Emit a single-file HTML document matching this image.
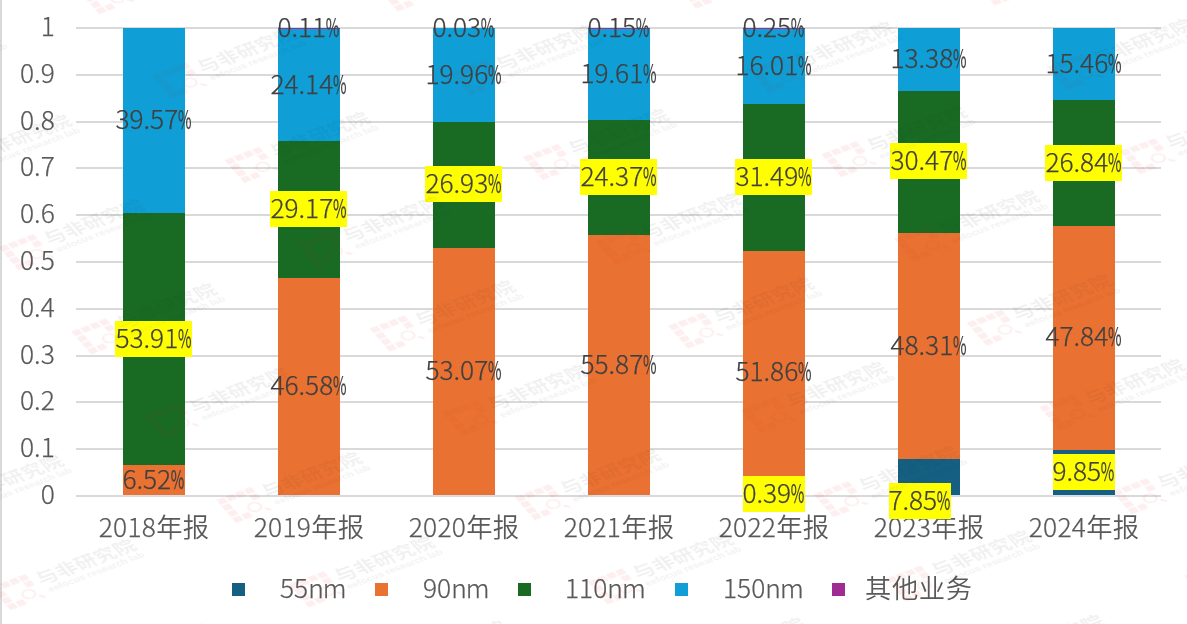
<!DOCTYPE html>
<html lang="zh-CN">
<head>
<meta charset="utf-8">
<title>chart</title>
<style>
html,body{margin:0;padding:0;background:#fff;}
body{width:1187px;height:624px;position:relative;overflow:hidden;font-family:"Noto Sans CJK SC","Liberation Sans",sans-serif;font-weight:300;}
#chart{position:absolute;left:0;top:0;width:1187px;height:624px;overflow:hidden;background:#fff;}
svg{position:absolute;left:0;top:0;}
.t{position:absolute;white-space:nowrap;line-height:30px;height:30px;font-size:26.3px;}
.yl{color:#595959;text-align:right;width:60px;-webkit-text-stroke:0.25px #595959;}
.cl{color:#595959;text-align:center;width:160px;letter-spacing:0.3px;-webkit-text-stroke:0.25px #595959;}
.cl b,.lg b{font-weight:350;-webkit-text-stroke:0;}
.dl{color:#404040;-webkit-text-stroke:0.25px #404040;text-align:center;height:36px;line-height:32px;box-sizing:border-box;}
.dl i{font-style:normal;font-weight:400;display:inline-block;transform:scaleX(.56);transform-origin:0 50%;width:13.8px;margin-left:0px}
.hl{background:#ffff00;}
.lg{color:#595959;-webkit-text-stroke:0.25px #595959;}
.lg u{text-decoration:none;letter-spacing:-0.9px;}
.lg b{letter-spacing:0.6px;}

</style>
</head>
<body>
<div id="chart">
<svg width="1187" height="624" viewBox="0 0 1187 624" shape-rendering="crispEdges">
<rect x="0" y="0" width="2" height="624" fill="#d9d9d9"/>
<rect x="76" y="27.0" width="1085" height="2" fill="#d9d9d9"/>
<rect x="76" y="73.8" width="1085" height="2" fill="#d9d9d9"/>
<rect x="76" y="120.6" width="1085" height="2" fill="#d9d9d9"/>
<rect x="76" y="167.4" width="1085" height="2" fill="#d9d9d9"/>
<rect x="76" y="214.2" width="1085" height="2" fill="#d9d9d9"/>
<rect x="76" y="261.0" width="1085" height="2" fill="#d9d9d9"/>
<rect x="76" y="307.8" width="1085" height="2" fill="#d9d9d9"/>
<rect x="76" y="354.6" width="1085" height="2" fill="#d9d9d9"/>
<rect x="76" y="401.4" width="1085" height="2" fill="#d9d9d9"/>
<rect x="76" y="448.2" width="1085" height="2" fill="#d9d9d9"/>
<rect x="76" y="495.0" width="1085" height="2" fill="#d9d9d9"/>
<rect x="123.0" y="465.49" width="62" height="30.51" fill="#E97132"/>
<rect x="123.0" y="213.19" width="62" height="252.30" fill="#196B24"/>
<rect x="123.0" y="28.00" width="62" height="185.19" fill="#0F9ED5"/>
<rect x="278.0" y="278.01" width="62" height="217.99" fill="#E97132"/>
<rect x="278.0" y="141.49" width="62" height="136.52" fill="#196B24"/>
<rect x="278.0" y="28.51" width="62" height="112.98" fill="#0F9ED5"/>
<rect x="278.0" y="28.00" width="62" height="0.51" fill="#A02B93"/>
<rect x="433.0" y="247.63" width="62" height="248.37" fill="#E97132"/>
<rect x="433.0" y="121.60" width="62" height="126.03" fill="#196B24"/>
<rect x="433.0" y="28.19" width="62" height="93.41" fill="#0F9ED5"/>
<rect x="433.0" y="28.05" width="62" height="0.14" fill="#A02B93"/>
<rect x="588.0" y="234.53" width="62" height="261.47" fill="#E97132"/>
<rect x="588.0" y="120.48" width="62" height="114.05" fill="#196B24"/>
<rect x="588.0" y="28.70" width="62" height="91.77" fill="#0F9ED5"/>
<rect x="588.0" y="28.00" width="62" height="0.70" fill="#A02B93"/>
<rect x="743.0" y="494.17" width="62" height="1.83" fill="#156082"/>
<rect x="743.0" y="251.47" width="62" height="242.70" fill="#E97132"/>
<rect x="743.0" y="104.10" width="62" height="147.37" fill="#196B24"/>
<rect x="743.0" y="29.17" width="62" height="74.93" fill="#0F9ED5"/>
<rect x="743.0" y="28.00" width="62" height="1.17" fill="#A02B93"/>
<rect x="898.0" y="459.26" width="62" height="36.74" fill="#156082"/>
<rect x="898.0" y="233.17" width="62" height="226.09" fill="#E97132"/>
<rect x="898.0" y="90.57" width="62" height="142.60" fill="#196B24"/>
<rect x="898.0" y="27.95" width="62" height="62.62" fill="#0F9ED5"/>
<rect x="1053.0" y="449.90" width="62" height="46.10" fill="#156082"/>
<rect x="1053.0" y="226.01" width="62" height="223.89" fill="#E97132"/>
<rect x="1053.0" y="100.40" width="62" height="125.61" fill="#196B24"/>
<rect x="1053.0" y="28.05" width="62" height="72.35" fill="#0F9ED5"/>
<rect x="76" y="495" width="1085" height="2" fill="#d9d9d9"/>
<rect x="123.0" y="495" width="62" height="1" fill="#d6dfe8"/>
<rect x="278.0" y="495" width="62" height="1" fill="#d6dfe8"/>
<rect x="433.0" y="495" width="62" height="1" fill="#d6dfe8"/>
<rect x="588.0" y="495" width="62" height="1" fill="#d6dfe8"/>
<rect x="743.0" y="495" width="62" height="1" fill="#d6dfe8"/>
<rect x="898.0" y="495" width="62" height="1" fill="#d6dfe8"/>
<rect x="1053.0" y="495" width="62" height="1" fill="#d6dfe8"/>
<rect x="232" y="583" width="13" height="13" fill="#156082"/>
<rect x="375" y="583" width="13" height="13" fill="#E97132"/>
<rect x="518" y="583" width="13" height="13" fill="#196B24"/>
<rect x="675" y="583" width="13" height="13" fill="#0F9ED5"/>
<rect x="832" y="583" width="13" height="13" fill="#A02B93"/>
</svg>
<div class="t yl" style="left:-5.25px;top:477.9px">0</div>
<div class="t yl" style="left:-5.25px;top:431.1px">0.1</div>
<div class="t yl" style="left:-5.25px;top:384.3px">0.2</div>
<div class="t yl" style="left:-5.25px;top:337.5px">0.3</div>
<div class="t yl" style="left:-5.25px;top:290.7px">0.4</div>
<div class="t yl" style="left:-5.25px;top:243.9px">0.5</div>
<div class="t yl" style="left:-5.25px;top:197.1px">0.6</div>
<div class="t yl" style="left:-5.25px;top:150.3px">0.7</div>
<div class="t yl" style="left:-5.25px;top:103.5px">0.8</div>
<div class="t yl" style="left:-5.25px;top:56.7px">0.9</div>
<div class="t yl" style="left:-5.25px;top:9.9px">1</div>
<div class="t cl" style="left:74.0px;top:511px">2018<b>年报</b></div>
<div class="t cl" style="left:229.0px;top:511px">2019<b>年报</b></div>
<div class="t cl" style="left:384.0px;top:511px">2020<b>年报</b></div>
<div class="t cl" style="left:539.0px;top:511px">2021<b>年报</b></div>
<div class="t cl" style="left:694.0px;top:511px">2022<b>年报</b></div>
<div class="t cl" style="left:849.0px;top:511px">2023<b>年报</b></div>
<div class="t cl" style="left:1004.0px;top:511px">2024<b>年报</b></div>
<div class="t dl" style="left:123.00px;top:462.00px;width:62px;text-indent:-0.6px">6.52<i>%</i></div>
<div class="t dl hl" style="left:115.40px;top:321.00px;width:76.6px">53.91<i>%</i></div>
<div class="t dl" style="left:115.40px;top:102.00px;width:76.6px">39.57<i>%</i></div>
<div class="t dl" style="left:270.40px;top:368.00px;width:76.6px">46.58<i>%</i></div>
<div class="t dl hl" style="left:270.40px;top:191.00px;width:76.6px">29.17<i>%</i></div>
<div class="t dl" style="left:270.40px;top:67.00px;width:76.6px">24.14<i>%</i></div>
<div class="t dl" style="left:278.00px;top:10.00px;width:62px;text-indent:-0.6px">0.11<i>%</i></div>
<div class="t dl" style="left:425.40px;top:353.00px;width:76.6px">53.07<i>%</i></div>
<div class="t dl hl" style="left:425.40px;top:166.00px;width:76.6px">26.93<i>%</i></div>
<div class="t dl" style="left:425.40px;top:57.00px;width:76.6px">19.96<i>%</i></div>
<div class="t dl" style="left:433.00px;top:10.00px;width:62px;text-indent:-0.6px">0.03<i>%</i></div>
<div class="t dl" style="left:580.40px;top:347.00px;width:76.6px">55.87<i>%</i></div>
<div class="t dl hl" style="left:580.40px;top:159.00px;width:76.6px">24.37<i>%</i></div>
<div class="t dl" style="left:580.40px;top:56.00px;width:76.6px">19.61<i>%</i></div>
<div class="t dl" style="left:588.00px;top:10.00px;width:62px;text-indent:-0.6px">0.15<i>%</i></div>
<div class="t dl hl" style="left:743.00px;top:476.00px;width:62px;text-indent:-0.6px">0.39<i>%</i></div>
<div class="t dl" style="left:735.40px;top:354.00px;width:76.6px">51.86<i>%</i></div>
<div class="t dl hl" style="left:735.40px;top:159.00px;width:76.6px">31.49<i>%</i></div>
<div class="t dl" style="left:735.40px;top:48.00px;width:76.6px">16.01<i>%</i></div>
<div class="t dl" style="left:743.00px;top:10.00px;width:62px;text-indent:-0.6px">0.25<i>%</i></div>
<div class="t dl hl" style="left:889.00px;top:483.00px;width:62px;text-indent:-0.6px">7.85<i>%</i></div>
<div class="t dl" style="left:890.40px;top:328.00px;width:76.6px">48.31<i>%</i></div>
<div class="t dl hl" style="left:890.40px;top:143.00px;width:76.6px">30.47<i>%</i></div>
<div class="t dl" style="left:890.40px;top:41.00px;width:76.6px">13.38<i>%</i></div>
<div class="t dl hl" style="left:1053.00px;top:454.00px;width:62px;text-indent:-0.6px">9.85<i>%</i></div>
<div class="t dl" style="left:1045.40px;top:319.00px;width:76.6px">47.84<i>%</i></div>
<div class="t dl hl" style="left:1045.40px;top:145.00px;width:76.6px">26.84<i>%</i></div>
<div class="t dl" style="left:1045.40px;top:46.00px;width:76.6px">15.46<i>%</i></div>
<div class="t lg" style="left:280px;top:572px">55<u>nm</u></div>
<div class="t lg" style="left:423px;top:572px">90<u>nm</u></div>
<div class="t lg" style="left:565px;top:572px">110<u>nm</u></div>
<div class="t lg" style="left:723px;top:572px">150<u>nm</u></div>
<div class="t lg" style="left:865px;top:572px"><b>其他业务</b></div>
<svg id="wm" width="1187" height="624" viewBox="0 0 1187 624" style="pointer-events:none">
<mask id="wmm" maskUnits="userSpaceOnUse" x="0" y="0" width="1187" height="624"><rect x="0" y="0" width="1187" height="624" fill="#fff"/>
<rect x="123.0" y="28" width="62" height="467" fill="#999"/>
<rect x="278.0" y="28" width="62" height="467" fill="#999"/>
<rect x="433.0" y="28" width="62" height="467" fill="#999"/>
<rect x="588.0" y="28" width="62" height="467" fill="#999"/>
<rect x="743.0" y="28" width="62" height="467" fill="#999"/>
<rect x="898.0" y="28" width="62" height="467" fill="#999"/>
<rect x="1053.0" y="28" width="62" height="467" fill="#999"/>
</mask>
<g mask="url(#wmm)">
<g transform="matrix(0.9357,-0.3534,0.5403,0.621,85.0,-7.7)">
<g fill="rgba(225,20,30,0.066)">
<rect x="-3.95" y="-3.95" width="7.9" height="7.9" rx="0.8"/>
<rect x="5.84" y="-3.95" width="7.9" height="7.9" rx="0.8"/>
<rect x="15.63" y="-3.95" width="7.9" height="7.9" rx="0.8"/>
<rect x="25.42" y="-3.95" width="7.9" height="7.9" rx="0.8"/>
<rect x="25.42" y="5.84" width="7.9" height="7.9" rx="0.8"/>
<rect x="-3.95" y="5.84" width="7.9" height="7.9" rx="0.8"/>
<rect x="-3.95" y="15.63" width="7.9" height="7.9" rx="0.8"/>
<rect x="-3.95" y="25.42" width="7.9" height="7.9" rx="0.8"/>
<rect x="5.84" y="25.42" width="7.9" height="7.9" rx="0.8"/>
</g>
<circle cx="22.1" cy="22.1" r="6" fill="none" stroke="rgba(225,20,30,0.066)" stroke-width="2.2"/>
<path d="M30 29.2 L32.6 32.3" stroke="rgba(225,20,30,0.066)" stroke-width="3" stroke-linecap="round" fill="none"/>
<text x="38.8" y="16" font-size="20.4" letter-spacing="0.3" fill="rgba(0,0,0,0.06)" font-weight="700">与非研究院</text>
<text x="41" y="29.6" font-size="10.2" fill="rgba(0,0,0,0.06)" font-family="Liberation Sans, sans-serif" font-weight="700">eefocus research lab</text>
</g>
<g transform="matrix(0.9357,-0.3534,0.5403,0.621,383.5,-10.6)">
<g fill="rgba(225,20,30,0.066)">
<rect x="-3.95" y="-3.95" width="7.9" height="7.9" rx="0.8"/>
<rect x="5.84" y="-3.95" width="7.9" height="7.9" rx="0.8"/>
<rect x="15.63" y="-3.95" width="7.9" height="7.9" rx="0.8"/>
<rect x="25.42" y="-3.95" width="7.9" height="7.9" rx="0.8"/>
<rect x="25.42" y="5.84" width="7.9" height="7.9" rx="0.8"/>
<rect x="-3.95" y="5.84" width="7.9" height="7.9" rx="0.8"/>
<rect x="-3.95" y="15.63" width="7.9" height="7.9" rx="0.8"/>
<rect x="-3.95" y="25.42" width="7.9" height="7.9" rx="0.8"/>
<rect x="5.84" y="25.42" width="7.9" height="7.9" rx="0.8"/>
</g>
<circle cx="22.1" cy="22.1" r="6" fill="none" stroke="rgba(225,20,30,0.066)" stroke-width="2.2"/>
<path d="M30 29.2 L32.6 32.3" stroke="rgba(225,20,30,0.066)" stroke-width="3" stroke-linecap="round" fill="none"/>
<text x="38.8" y="16" font-size="20.4" letter-spacing="0.3" fill="rgba(0,0,0,0.06)" font-weight="700">与非研究院</text>
<text x="41" y="29.6" font-size="10.2" fill="rgba(0,0,0,0.06)" font-family="Liberation Sans, sans-serif" font-weight="700">eefocus research lab</text>
</g>
<g transform="matrix(0.9357,-0.3534,0.5403,0.621,682.0,-13.5)">
<g fill="rgba(225,20,30,0.066)">
<rect x="-3.95" y="-3.95" width="7.9" height="7.9" rx="0.8"/>
<rect x="5.84" y="-3.95" width="7.9" height="7.9" rx="0.8"/>
<rect x="15.63" y="-3.95" width="7.9" height="7.9" rx="0.8"/>
<rect x="25.42" y="-3.95" width="7.9" height="7.9" rx="0.8"/>
<rect x="25.42" y="5.84" width="7.9" height="7.9" rx="0.8"/>
<rect x="-3.95" y="5.84" width="7.9" height="7.9" rx="0.8"/>
<rect x="-3.95" y="15.63" width="7.9" height="7.9" rx="0.8"/>
<rect x="-3.95" y="25.42" width="7.9" height="7.9" rx="0.8"/>
<rect x="5.84" y="25.42" width="7.9" height="7.9" rx="0.8"/>
</g>
<circle cx="22.1" cy="22.1" r="6" fill="none" stroke="rgba(225,20,30,0.066)" stroke-width="2.2"/>
<path d="M30 29.2 L32.6 32.3" stroke="rgba(225,20,30,0.066)" stroke-width="3" stroke-linecap="round" fill="none"/>
<text x="38.8" y="16" font-size="20.4" letter-spacing="0.3" fill="rgba(0,0,0,0.06)" font-weight="700">与非研究院</text>
<text x="41" y="29.6" font-size="10.2" fill="rgba(0,0,0,0.06)" font-family="Liberation Sans, sans-serif" font-weight="700">eefocus research lab</text>
</g>
<g transform="matrix(0.9357,-0.3534,0.5403,0.621,980.5,-16.4)">
<g fill="rgba(225,20,30,0.066)">
<rect x="-3.95" y="-3.95" width="7.9" height="7.9" rx="0.8"/>
<rect x="5.84" y="-3.95" width="7.9" height="7.9" rx="0.8"/>
<rect x="15.63" y="-3.95" width="7.9" height="7.9" rx="0.8"/>
<rect x="25.42" y="-3.95" width="7.9" height="7.9" rx="0.8"/>
<rect x="25.42" y="5.84" width="7.9" height="7.9" rx="0.8"/>
<rect x="-3.95" y="5.84" width="7.9" height="7.9" rx="0.8"/>
<rect x="-3.95" y="15.63" width="7.9" height="7.9" rx="0.8"/>
<rect x="-3.95" y="25.42" width="7.9" height="7.9" rx="0.8"/>
<rect x="5.84" y="25.42" width="7.9" height="7.9" rx="0.8"/>
</g>
<circle cx="22.1" cy="22.1" r="6" fill="none" stroke="rgba(225,20,30,0.066)" stroke-width="2.2"/>
<path d="M30 29.2 L32.6 32.3" stroke="rgba(225,20,30,0.066)" stroke-width="3" stroke-linecap="round" fill="none"/>
<text x="38.8" y="16" font-size="20.4" letter-spacing="0.3" fill="rgba(0,0,0,0.06)" font-weight="700">与非研究院</text>
<text x="41" y="29.6" font-size="10.2" fill="rgba(0,0,0,0.06)" font-family="Liberation Sans, sans-serif" font-weight="700">eefocus research lab</text>
</g>
<g transform="matrix(0.9357,-0.3534,0.5403,0.621,-140.9,79.5)">
<g fill="rgba(225,20,30,0.066)">
<rect x="-3.95" y="-3.95" width="7.9" height="7.9" rx="0.8"/>
<rect x="5.84" y="-3.95" width="7.9" height="7.9" rx="0.8"/>
<rect x="15.63" y="-3.95" width="7.9" height="7.9" rx="0.8"/>
<rect x="25.42" y="-3.95" width="7.9" height="7.9" rx="0.8"/>
<rect x="25.42" y="5.84" width="7.9" height="7.9" rx="0.8"/>
<rect x="-3.95" y="5.84" width="7.9" height="7.9" rx="0.8"/>
<rect x="-3.95" y="15.63" width="7.9" height="7.9" rx="0.8"/>
<rect x="-3.95" y="25.42" width="7.9" height="7.9" rx="0.8"/>
<rect x="5.84" y="25.42" width="7.9" height="7.9" rx="0.8"/>
</g>
<circle cx="22.1" cy="22.1" r="6" fill="none" stroke="rgba(225,20,30,0.066)" stroke-width="2.2"/>
<path d="M30 29.2 L32.6 32.3" stroke="rgba(225,20,30,0.066)" stroke-width="3" stroke-linecap="round" fill="none"/>
<text x="38.8" y="16" font-size="20.4" letter-spacing="0.3" fill="rgba(0,0,0,0.06)" font-weight="700">与非研究院</text>
<text x="41" y="29.6" font-size="10.2" fill="rgba(0,0,0,0.06)" font-family="Liberation Sans, sans-serif" font-weight="700">eefocus research lab</text>
</g>
<g transform="matrix(0.9357,-0.3534,0.5403,0.621,157.6,76.6)">
<g fill="rgba(225,20,30,0.066)">
<rect x="-3.95" y="-3.95" width="7.9" height="7.9" rx="0.8"/>
<rect x="5.84" y="-3.95" width="7.9" height="7.9" rx="0.8"/>
<rect x="15.63" y="-3.95" width="7.9" height="7.9" rx="0.8"/>
<rect x="25.42" y="-3.95" width="7.9" height="7.9" rx="0.8"/>
<rect x="25.42" y="5.84" width="7.9" height="7.9" rx="0.8"/>
<rect x="-3.95" y="5.84" width="7.9" height="7.9" rx="0.8"/>
<rect x="-3.95" y="15.63" width="7.9" height="7.9" rx="0.8"/>
<rect x="-3.95" y="25.42" width="7.9" height="7.9" rx="0.8"/>
<rect x="5.84" y="25.42" width="7.9" height="7.9" rx="0.8"/>
</g>
<circle cx="22.1" cy="22.1" r="6" fill="none" stroke="rgba(225,20,30,0.066)" stroke-width="2.2"/>
<path d="M30 29.2 L32.6 32.3" stroke="rgba(225,20,30,0.066)" stroke-width="3" stroke-linecap="round" fill="none"/>
<text x="38.8" y="16" font-size="20.4" letter-spacing="0.3" fill="rgba(0,0,0,0.06)" font-weight="700">与非研究院</text>
<text x="41" y="29.6" font-size="10.2" fill="rgba(0,0,0,0.06)" font-family="Liberation Sans, sans-serif" font-weight="700">eefocus research lab</text>
</g>
<g transform="matrix(0.9357,-0.3534,0.5403,0.621,456.1,73.7)">
<g fill="rgba(225,20,30,0.066)">
<rect x="-3.95" y="-3.95" width="7.9" height="7.9" rx="0.8"/>
<rect x="5.84" y="-3.95" width="7.9" height="7.9" rx="0.8"/>
<rect x="15.63" y="-3.95" width="7.9" height="7.9" rx="0.8"/>
<rect x="25.42" y="-3.95" width="7.9" height="7.9" rx="0.8"/>
<rect x="25.42" y="5.84" width="7.9" height="7.9" rx="0.8"/>
<rect x="-3.95" y="5.84" width="7.9" height="7.9" rx="0.8"/>
<rect x="-3.95" y="15.63" width="7.9" height="7.9" rx="0.8"/>
<rect x="-3.95" y="25.42" width="7.9" height="7.9" rx="0.8"/>
<rect x="5.84" y="25.42" width="7.9" height="7.9" rx="0.8"/>
</g>
<circle cx="22.1" cy="22.1" r="6" fill="none" stroke="rgba(225,20,30,0.066)" stroke-width="2.2"/>
<path d="M30 29.2 L32.6 32.3" stroke="rgba(225,20,30,0.066)" stroke-width="3" stroke-linecap="round" fill="none"/>
<text x="38.8" y="16" font-size="20.4" letter-spacing="0.3" fill="rgba(0,0,0,0.06)" font-weight="700">与非研究院</text>
<text x="41" y="29.6" font-size="10.2" fill="rgba(0,0,0,0.06)" font-family="Liberation Sans, sans-serif" font-weight="700">eefocus research lab</text>
</g>
<g transform="matrix(0.9357,-0.3534,0.5403,0.621,754.6,70.8)">
<g fill="rgba(225,20,30,0.066)">
<rect x="-3.95" y="-3.95" width="7.9" height="7.9" rx="0.8"/>
<rect x="5.84" y="-3.95" width="7.9" height="7.9" rx="0.8"/>
<rect x="15.63" y="-3.95" width="7.9" height="7.9" rx="0.8"/>
<rect x="25.42" y="-3.95" width="7.9" height="7.9" rx="0.8"/>
<rect x="25.42" y="5.84" width="7.9" height="7.9" rx="0.8"/>
<rect x="-3.95" y="5.84" width="7.9" height="7.9" rx="0.8"/>
<rect x="-3.95" y="15.63" width="7.9" height="7.9" rx="0.8"/>
<rect x="-3.95" y="25.42" width="7.9" height="7.9" rx="0.8"/>
<rect x="5.84" y="25.42" width="7.9" height="7.9" rx="0.8"/>
</g>
<circle cx="22.1" cy="22.1" r="6" fill="none" stroke="rgba(225,20,30,0.066)" stroke-width="2.2"/>
<path d="M30 29.2 L32.6 32.3" stroke="rgba(225,20,30,0.066)" stroke-width="3" stroke-linecap="round" fill="none"/>
<text x="38.8" y="16" font-size="20.4" letter-spacing="0.3" fill="rgba(0,0,0,0.06)" font-weight="700">与非研究院</text>
<text x="41" y="29.6" font-size="10.2" fill="rgba(0,0,0,0.06)" font-family="Liberation Sans, sans-serif" font-weight="700">eefocus research lab</text>
</g>
<g transform="matrix(0.9357,-0.3534,0.5403,0.621,1053.1,67.9)">
<g fill="rgba(225,20,30,0.066)">
<rect x="-3.95" y="-3.95" width="7.9" height="7.9" rx="0.8"/>
<rect x="5.84" y="-3.95" width="7.9" height="7.9" rx="0.8"/>
<rect x="15.63" y="-3.95" width="7.9" height="7.9" rx="0.8"/>
<rect x="25.42" y="-3.95" width="7.9" height="7.9" rx="0.8"/>
<rect x="25.42" y="5.84" width="7.9" height="7.9" rx="0.8"/>
<rect x="-3.95" y="5.84" width="7.9" height="7.9" rx="0.8"/>
<rect x="-3.95" y="15.63" width="7.9" height="7.9" rx="0.8"/>
<rect x="-3.95" y="25.42" width="7.9" height="7.9" rx="0.8"/>
<rect x="5.84" y="25.42" width="7.9" height="7.9" rx="0.8"/>
</g>
<circle cx="22.1" cy="22.1" r="6" fill="none" stroke="rgba(225,20,30,0.066)" stroke-width="2.2"/>
<path d="M30 29.2 L32.6 32.3" stroke="rgba(225,20,30,0.066)" stroke-width="3" stroke-linecap="round" fill="none"/>
<text x="38.8" y="16" font-size="20.4" letter-spacing="0.3" fill="rgba(0,0,0,0.06)" font-weight="700">与非研究院</text>
<text x="41" y="29.6" font-size="10.2" fill="rgba(0,0,0,0.06)" font-family="Liberation Sans, sans-serif" font-weight="700">eefocus research lab</text>
</g>
<g transform="matrix(0.9357,-0.3534,0.5403,0.621,-68.3,163.8)">
<g fill="rgba(225,20,30,0.066)">
<rect x="-3.95" y="-3.95" width="7.9" height="7.9" rx="0.8"/>
<rect x="5.84" y="-3.95" width="7.9" height="7.9" rx="0.8"/>
<rect x="15.63" y="-3.95" width="7.9" height="7.9" rx="0.8"/>
<rect x="25.42" y="-3.95" width="7.9" height="7.9" rx="0.8"/>
<rect x="25.42" y="5.84" width="7.9" height="7.9" rx="0.8"/>
<rect x="-3.95" y="5.84" width="7.9" height="7.9" rx="0.8"/>
<rect x="-3.95" y="15.63" width="7.9" height="7.9" rx="0.8"/>
<rect x="-3.95" y="25.42" width="7.9" height="7.9" rx="0.8"/>
<rect x="5.84" y="25.42" width="7.9" height="7.9" rx="0.8"/>
</g>
<circle cx="22.1" cy="22.1" r="6" fill="none" stroke="rgba(225,20,30,0.066)" stroke-width="2.2"/>
<path d="M30 29.2 L32.6 32.3" stroke="rgba(225,20,30,0.066)" stroke-width="3" stroke-linecap="round" fill="none"/>
<text x="38.8" y="16" font-size="20.4" letter-spacing="0.3" fill="rgba(0,0,0,0.06)" font-weight="700">与非研究院</text>
<text x="41" y="29.6" font-size="10.2" fill="rgba(0,0,0,0.06)" font-family="Liberation Sans, sans-serif" font-weight="700">eefocus research lab</text>
</g>
<g transform="matrix(0.9357,-0.3534,0.5403,0.621,230.2,160.9)">
<g fill="rgba(225,20,30,0.066)">
<rect x="-3.95" y="-3.95" width="7.9" height="7.9" rx="0.8"/>
<rect x="5.84" y="-3.95" width="7.9" height="7.9" rx="0.8"/>
<rect x="15.63" y="-3.95" width="7.9" height="7.9" rx="0.8"/>
<rect x="25.42" y="-3.95" width="7.9" height="7.9" rx="0.8"/>
<rect x="25.42" y="5.84" width="7.9" height="7.9" rx="0.8"/>
<rect x="-3.95" y="5.84" width="7.9" height="7.9" rx="0.8"/>
<rect x="-3.95" y="15.63" width="7.9" height="7.9" rx="0.8"/>
<rect x="-3.95" y="25.42" width="7.9" height="7.9" rx="0.8"/>
<rect x="5.84" y="25.42" width="7.9" height="7.9" rx="0.8"/>
</g>
<circle cx="22.1" cy="22.1" r="6" fill="none" stroke="rgba(225,20,30,0.066)" stroke-width="2.2"/>
<path d="M30 29.2 L32.6 32.3" stroke="rgba(225,20,30,0.066)" stroke-width="3" stroke-linecap="round" fill="none"/>
<text x="38.8" y="16" font-size="20.4" letter-spacing="0.3" fill="rgba(0,0,0,0.06)" font-weight="700">与非研究院</text>
<text x="41" y="29.6" font-size="10.2" fill="rgba(0,0,0,0.06)" font-family="Liberation Sans, sans-serif" font-weight="700">eefocus research lab</text>
</g>
<g transform="matrix(0.9357,-0.3534,0.5403,0.621,528.7,158.0)">
<g fill="rgba(225,20,30,0.066)">
<rect x="-3.95" y="-3.95" width="7.9" height="7.9" rx="0.8"/>
<rect x="5.84" y="-3.95" width="7.9" height="7.9" rx="0.8"/>
<rect x="15.63" y="-3.95" width="7.9" height="7.9" rx="0.8"/>
<rect x="25.42" y="-3.95" width="7.9" height="7.9" rx="0.8"/>
<rect x="25.42" y="5.84" width="7.9" height="7.9" rx="0.8"/>
<rect x="-3.95" y="5.84" width="7.9" height="7.9" rx="0.8"/>
<rect x="-3.95" y="15.63" width="7.9" height="7.9" rx="0.8"/>
<rect x="-3.95" y="25.42" width="7.9" height="7.9" rx="0.8"/>
<rect x="5.84" y="25.42" width="7.9" height="7.9" rx="0.8"/>
</g>
<circle cx="22.1" cy="22.1" r="6" fill="none" stroke="rgba(225,20,30,0.066)" stroke-width="2.2"/>
<path d="M30 29.2 L32.6 32.3" stroke="rgba(225,20,30,0.066)" stroke-width="3" stroke-linecap="round" fill="none"/>
<text x="38.8" y="16" font-size="20.4" letter-spacing="0.3" fill="rgba(0,0,0,0.06)" font-weight="700">与非研究院</text>
<text x="41" y="29.6" font-size="10.2" fill="rgba(0,0,0,0.06)" font-family="Liberation Sans, sans-serif" font-weight="700">eefocus research lab</text>
</g>
<g transform="matrix(0.9357,-0.3534,0.5403,0.621,827.2,155.1)">
<g fill="rgba(225,20,30,0.066)">
<rect x="-3.95" y="-3.95" width="7.9" height="7.9" rx="0.8"/>
<rect x="5.84" y="-3.95" width="7.9" height="7.9" rx="0.8"/>
<rect x="15.63" y="-3.95" width="7.9" height="7.9" rx="0.8"/>
<rect x="25.42" y="-3.95" width="7.9" height="7.9" rx="0.8"/>
<rect x="25.42" y="5.84" width="7.9" height="7.9" rx="0.8"/>
<rect x="-3.95" y="5.84" width="7.9" height="7.9" rx="0.8"/>
<rect x="-3.95" y="15.63" width="7.9" height="7.9" rx="0.8"/>
<rect x="-3.95" y="25.42" width="7.9" height="7.9" rx="0.8"/>
<rect x="5.84" y="25.42" width="7.9" height="7.9" rx="0.8"/>
</g>
<circle cx="22.1" cy="22.1" r="6" fill="none" stroke="rgba(225,20,30,0.066)" stroke-width="2.2"/>
<path d="M30 29.2 L32.6 32.3" stroke="rgba(225,20,30,0.066)" stroke-width="3" stroke-linecap="round" fill="none"/>
<text x="38.8" y="16" font-size="20.4" letter-spacing="0.3" fill="rgba(0,0,0,0.06)" font-weight="700">与非研究院</text>
<text x="41" y="29.6" font-size="10.2" fill="rgba(0,0,0,0.06)" font-family="Liberation Sans, sans-serif" font-weight="700">eefocus research lab</text>
</g>
<g transform="matrix(0.9357,-0.3534,0.5403,0.621,1125.7,152.2)">
<g fill="rgba(225,20,30,0.066)">
<rect x="-3.95" y="-3.95" width="7.9" height="7.9" rx="0.8"/>
<rect x="5.84" y="-3.95" width="7.9" height="7.9" rx="0.8"/>
<rect x="15.63" y="-3.95" width="7.9" height="7.9" rx="0.8"/>
<rect x="25.42" y="-3.95" width="7.9" height="7.9" rx="0.8"/>
<rect x="25.42" y="5.84" width="7.9" height="7.9" rx="0.8"/>
<rect x="-3.95" y="5.84" width="7.9" height="7.9" rx="0.8"/>
<rect x="-3.95" y="15.63" width="7.9" height="7.9" rx="0.8"/>
<rect x="-3.95" y="25.42" width="7.9" height="7.9" rx="0.8"/>
<rect x="5.84" y="25.42" width="7.9" height="7.9" rx="0.8"/>
</g>
<circle cx="22.1" cy="22.1" r="6" fill="none" stroke="rgba(225,20,30,0.066)" stroke-width="2.2"/>
<path d="M30 29.2 L32.6 32.3" stroke="rgba(225,20,30,0.066)" stroke-width="3" stroke-linecap="round" fill="none"/>
<text x="38.8" y="16" font-size="20.4" letter-spacing="0.3" fill="rgba(0,0,0,0.06)" font-weight="700">与非研究院</text>
<text x="41" y="29.6" font-size="10.2" fill="rgba(0,0,0,0.06)" font-family="Liberation Sans, sans-serif" font-weight="700">eefocus research lab</text>
</g>
<g transform="matrix(0.9357,-0.3534,0.5403,0.621,4.3,248.1)">
<g fill="rgba(225,20,30,0.066)">
<rect x="-3.95" y="-3.95" width="7.9" height="7.9" rx="0.8"/>
<rect x="5.84" y="-3.95" width="7.9" height="7.9" rx="0.8"/>
<rect x="15.63" y="-3.95" width="7.9" height="7.9" rx="0.8"/>
<rect x="25.42" y="-3.95" width="7.9" height="7.9" rx="0.8"/>
<rect x="25.42" y="5.84" width="7.9" height="7.9" rx="0.8"/>
<rect x="-3.95" y="5.84" width="7.9" height="7.9" rx="0.8"/>
<rect x="-3.95" y="15.63" width="7.9" height="7.9" rx="0.8"/>
<rect x="-3.95" y="25.42" width="7.9" height="7.9" rx="0.8"/>
<rect x="5.84" y="25.42" width="7.9" height="7.9" rx="0.8"/>
</g>
<circle cx="22.1" cy="22.1" r="6" fill="none" stroke="rgba(225,20,30,0.066)" stroke-width="2.2"/>
<path d="M30 29.2 L32.6 32.3" stroke="rgba(225,20,30,0.066)" stroke-width="3" stroke-linecap="round" fill="none"/>
<text x="38.8" y="16" font-size="20.4" letter-spacing="0.3" fill="rgba(0,0,0,0.06)" font-weight="700">与非研究院</text>
<text x="41" y="29.6" font-size="10.2" fill="rgba(0,0,0,0.06)" font-family="Liberation Sans, sans-serif" font-weight="700">eefocus research lab</text>
</g>
<g transform="matrix(0.9357,-0.3534,0.5403,0.621,302.8,245.2)">
<g fill="rgba(225,20,30,0.066)">
<rect x="-3.95" y="-3.95" width="7.9" height="7.9" rx="0.8"/>
<rect x="5.84" y="-3.95" width="7.9" height="7.9" rx="0.8"/>
<rect x="15.63" y="-3.95" width="7.9" height="7.9" rx="0.8"/>
<rect x="25.42" y="-3.95" width="7.9" height="7.9" rx="0.8"/>
<rect x="25.42" y="5.84" width="7.9" height="7.9" rx="0.8"/>
<rect x="-3.95" y="5.84" width="7.9" height="7.9" rx="0.8"/>
<rect x="-3.95" y="15.63" width="7.9" height="7.9" rx="0.8"/>
<rect x="-3.95" y="25.42" width="7.9" height="7.9" rx="0.8"/>
<rect x="5.84" y="25.42" width="7.9" height="7.9" rx="0.8"/>
</g>
<circle cx="22.1" cy="22.1" r="6" fill="none" stroke="rgba(225,20,30,0.066)" stroke-width="2.2"/>
<path d="M30 29.2 L32.6 32.3" stroke="rgba(225,20,30,0.066)" stroke-width="3" stroke-linecap="round" fill="none"/>
<text x="38.8" y="16" font-size="20.4" letter-spacing="0.3" fill="rgba(0,0,0,0.06)" font-weight="700">与非研究院</text>
<text x="41" y="29.6" font-size="10.2" fill="rgba(0,0,0,0.06)" font-family="Liberation Sans, sans-serif" font-weight="700">eefocus research lab</text>
</g>
<g transform="matrix(0.9357,-0.3534,0.5403,0.621,601.3,242.3)">
<g fill="rgba(225,20,30,0.066)">
<rect x="-3.95" y="-3.95" width="7.9" height="7.9" rx="0.8"/>
<rect x="5.84" y="-3.95" width="7.9" height="7.9" rx="0.8"/>
<rect x="15.63" y="-3.95" width="7.9" height="7.9" rx="0.8"/>
<rect x="25.42" y="-3.95" width="7.9" height="7.9" rx="0.8"/>
<rect x="25.42" y="5.84" width="7.9" height="7.9" rx="0.8"/>
<rect x="-3.95" y="5.84" width="7.9" height="7.9" rx="0.8"/>
<rect x="-3.95" y="15.63" width="7.9" height="7.9" rx="0.8"/>
<rect x="-3.95" y="25.42" width="7.9" height="7.9" rx="0.8"/>
<rect x="5.84" y="25.42" width="7.9" height="7.9" rx="0.8"/>
</g>
<circle cx="22.1" cy="22.1" r="6" fill="none" stroke="rgba(225,20,30,0.066)" stroke-width="2.2"/>
<path d="M30 29.2 L32.6 32.3" stroke="rgba(225,20,30,0.066)" stroke-width="3" stroke-linecap="round" fill="none"/>
<text x="38.8" y="16" font-size="20.4" letter-spacing="0.3" fill="rgba(0,0,0,0.06)" font-weight="700">与非研究院</text>
<text x="41" y="29.6" font-size="10.2" fill="rgba(0,0,0,0.06)" font-family="Liberation Sans, sans-serif" font-weight="700">eefocus research lab</text>
</g>
<g transform="matrix(0.9357,-0.3534,0.5403,0.621,899.8,239.4)">
<g fill="rgba(225,20,30,0.066)">
<rect x="-3.95" y="-3.95" width="7.9" height="7.9" rx="0.8"/>
<rect x="5.84" y="-3.95" width="7.9" height="7.9" rx="0.8"/>
<rect x="15.63" y="-3.95" width="7.9" height="7.9" rx="0.8"/>
<rect x="25.42" y="-3.95" width="7.9" height="7.9" rx="0.8"/>
<rect x="25.42" y="5.84" width="7.9" height="7.9" rx="0.8"/>
<rect x="-3.95" y="5.84" width="7.9" height="7.9" rx="0.8"/>
<rect x="-3.95" y="15.63" width="7.9" height="7.9" rx="0.8"/>
<rect x="-3.95" y="25.42" width="7.9" height="7.9" rx="0.8"/>
<rect x="5.84" y="25.42" width="7.9" height="7.9" rx="0.8"/>
</g>
<circle cx="22.1" cy="22.1" r="6" fill="none" stroke="rgba(225,20,30,0.066)" stroke-width="2.2"/>
<path d="M30 29.2 L32.6 32.3" stroke="rgba(225,20,30,0.066)" stroke-width="3" stroke-linecap="round" fill="none"/>
<text x="38.8" y="16" font-size="20.4" letter-spacing="0.3" fill="rgba(0,0,0,0.06)" font-weight="700">与非研究院</text>
<text x="41" y="29.6" font-size="10.2" fill="rgba(0,0,0,0.06)" font-family="Liberation Sans, sans-serif" font-weight="700">eefocus research lab</text>
</g>
<g transform="matrix(0.9357,-0.3534,0.5403,0.621,76.9,332.4)">
<g fill="rgba(225,20,30,0.066)">
<rect x="-3.95" y="-3.95" width="7.9" height="7.9" rx="0.8"/>
<rect x="5.84" y="-3.95" width="7.9" height="7.9" rx="0.8"/>
<rect x="15.63" y="-3.95" width="7.9" height="7.9" rx="0.8"/>
<rect x="25.42" y="-3.95" width="7.9" height="7.9" rx="0.8"/>
<rect x="25.42" y="5.84" width="7.9" height="7.9" rx="0.8"/>
<rect x="-3.95" y="5.84" width="7.9" height="7.9" rx="0.8"/>
<rect x="-3.95" y="15.63" width="7.9" height="7.9" rx="0.8"/>
<rect x="-3.95" y="25.42" width="7.9" height="7.9" rx="0.8"/>
<rect x="5.84" y="25.42" width="7.9" height="7.9" rx="0.8"/>
</g>
<circle cx="22.1" cy="22.1" r="6" fill="none" stroke="rgba(225,20,30,0.066)" stroke-width="2.2"/>
<path d="M30 29.2 L32.6 32.3" stroke="rgba(225,20,30,0.066)" stroke-width="3" stroke-linecap="round" fill="none"/>
<text x="38.8" y="16" font-size="20.4" letter-spacing="0.3" fill="rgba(0,0,0,0.06)" font-weight="700">与非研究院</text>
<text x="41" y="29.6" font-size="10.2" fill="rgba(0,0,0,0.06)" font-family="Liberation Sans, sans-serif" font-weight="700">eefocus research lab</text>
</g>
<g transform="matrix(0.9357,-0.3534,0.5403,0.621,375.4,329.5)">
<g fill="rgba(225,20,30,0.066)">
<rect x="-3.95" y="-3.95" width="7.9" height="7.9" rx="0.8"/>
<rect x="5.84" y="-3.95" width="7.9" height="7.9" rx="0.8"/>
<rect x="15.63" y="-3.95" width="7.9" height="7.9" rx="0.8"/>
<rect x="25.42" y="-3.95" width="7.9" height="7.9" rx="0.8"/>
<rect x="25.42" y="5.84" width="7.9" height="7.9" rx="0.8"/>
<rect x="-3.95" y="5.84" width="7.9" height="7.9" rx="0.8"/>
<rect x="-3.95" y="15.63" width="7.9" height="7.9" rx="0.8"/>
<rect x="-3.95" y="25.42" width="7.9" height="7.9" rx="0.8"/>
<rect x="5.84" y="25.42" width="7.9" height="7.9" rx="0.8"/>
</g>
<circle cx="22.1" cy="22.1" r="6" fill="none" stroke="rgba(225,20,30,0.066)" stroke-width="2.2"/>
<path d="M30 29.2 L32.6 32.3" stroke="rgba(225,20,30,0.066)" stroke-width="3" stroke-linecap="round" fill="none"/>
<text x="38.8" y="16" font-size="20.4" letter-spacing="0.3" fill="rgba(0,0,0,0.06)" font-weight="700">与非研究院</text>
<text x="41" y="29.6" font-size="10.2" fill="rgba(0,0,0,0.06)" font-family="Liberation Sans, sans-serif" font-weight="700">eefocus research lab</text>
</g>
<g transform="matrix(0.9357,-0.3534,0.5403,0.621,673.9,326.6)">
<g fill="rgba(225,20,30,0.066)">
<rect x="-3.95" y="-3.95" width="7.9" height="7.9" rx="0.8"/>
<rect x="5.84" y="-3.95" width="7.9" height="7.9" rx="0.8"/>
<rect x="15.63" y="-3.95" width="7.9" height="7.9" rx="0.8"/>
<rect x="25.42" y="-3.95" width="7.9" height="7.9" rx="0.8"/>
<rect x="25.42" y="5.84" width="7.9" height="7.9" rx="0.8"/>
<rect x="-3.95" y="5.84" width="7.9" height="7.9" rx="0.8"/>
<rect x="-3.95" y="15.63" width="7.9" height="7.9" rx="0.8"/>
<rect x="-3.95" y="25.42" width="7.9" height="7.9" rx="0.8"/>
<rect x="5.84" y="25.42" width="7.9" height="7.9" rx="0.8"/>
</g>
<circle cx="22.1" cy="22.1" r="6" fill="none" stroke="rgba(225,20,30,0.066)" stroke-width="2.2"/>
<path d="M30 29.2 L32.6 32.3" stroke="rgba(225,20,30,0.066)" stroke-width="3" stroke-linecap="round" fill="none"/>
<text x="38.8" y="16" font-size="20.4" letter-spacing="0.3" fill="rgba(0,0,0,0.06)" font-weight="700">与非研究院</text>
<text x="41" y="29.6" font-size="10.2" fill="rgba(0,0,0,0.06)" font-family="Liberation Sans, sans-serif" font-weight="700">eefocus research lab</text>
</g>
<g transform="matrix(0.9357,-0.3534,0.5403,0.621,972.4,323.7)">
<g fill="rgba(225,20,30,0.066)">
<rect x="-3.95" y="-3.95" width="7.9" height="7.9" rx="0.8"/>
<rect x="5.84" y="-3.95" width="7.9" height="7.9" rx="0.8"/>
<rect x="15.63" y="-3.95" width="7.9" height="7.9" rx="0.8"/>
<rect x="25.42" y="-3.95" width="7.9" height="7.9" rx="0.8"/>
<rect x="25.42" y="5.84" width="7.9" height="7.9" rx="0.8"/>
<rect x="-3.95" y="5.84" width="7.9" height="7.9" rx="0.8"/>
<rect x="-3.95" y="15.63" width="7.9" height="7.9" rx="0.8"/>
<rect x="-3.95" y="25.42" width="7.9" height="7.9" rx="0.8"/>
<rect x="5.84" y="25.42" width="7.9" height="7.9" rx="0.8"/>
</g>
<circle cx="22.1" cy="22.1" r="6" fill="none" stroke="rgba(225,20,30,0.066)" stroke-width="2.2"/>
<path d="M30 29.2 L32.6 32.3" stroke="rgba(225,20,30,0.066)" stroke-width="3" stroke-linecap="round" fill="none"/>
<text x="38.8" y="16" font-size="20.4" letter-spacing="0.3" fill="rgba(0,0,0,0.06)" font-weight="700">与非研究院</text>
<text x="41" y="29.6" font-size="10.2" fill="rgba(0,0,0,0.06)" font-family="Liberation Sans, sans-serif" font-weight="700">eefocus research lab</text>
</g>
<g transform="matrix(0.9357,-0.3534,0.5403,0.621,-149.0,419.6)">
<g fill="rgba(225,20,30,0.066)">
<rect x="-3.95" y="-3.95" width="7.9" height="7.9" rx="0.8"/>
<rect x="5.84" y="-3.95" width="7.9" height="7.9" rx="0.8"/>
<rect x="15.63" y="-3.95" width="7.9" height="7.9" rx="0.8"/>
<rect x="25.42" y="-3.95" width="7.9" height="7.9" rx="0.8"/>
<rect x="25.42" y="5.84" width="7.9" height="7.9" rx="0.8"/>
<rect x="-3.95" y="5.84" width="7.9" height="7.9" rx="0.8"/>
<rect x="-3.95" y="15.63" width="7.9" height="7.9" rx="0.8"/>
<rect x="-3.95" y="25.42" width="7.9" height="7.9" rx="0.8"/>
<rect x="5.84" y="25.42" width="7.9" height="7.9" rx="0.8"/>
</g>
<circle cx="22.1" cy="22.1" r="6" fill="none" stroke="rgba(225,20,30,0.066)" stroke-width="2.2"/>
<path d="M30 29.2 L32.6 32.3" stroke="rgba(225,20,30,0.066)" stroke-width="3" stroke-linecap="round" fill="none"/>
<text x="38.8" y="16" font-size="20.4" letter-spacing="0.3" fill="rgba(0,0,0,0.06)" font-weight="700">与非研究院</text>
<text x="41" y="29.6" font-size="10.2" fill="rgba(0,0,0,0.06)" font-family="Liberation Sans, sans-serif" font-weight="700">eefocus research lab</text>
</g>
<g transform="matrix(0.9357,-0.3534,0.5403,0.621,149.5,416.7)">
<g fill="rgba(225,20,30,0.066)">
<rect x="-3.95" y="-3.95" width="7.9" height="7.9" rx="0.8"/>
<rect x="5.84" y="-3.95" width="7.9" height="7.9" rx="0.8"/>
<rect x="15.63" y="-3.95" width="7.9" height="7.9" rx="0.8"/>
<rect x="25.42" y="-3.95" width="7.9" height="7.9" rx="0.8"/>
<rect x="25.42" y="5.84" width="7.9" height="7.9" rx="0.8"/>
<rect x="-3.95" y="5.84" width="7.9" height="7.9" rx="0.8"/>
<rect x="-3.95" y="15.63" width="7.9" height="7.9" rx="0.8"/>
<rect x="-3.95" y="25.42" width="7.9" height="7.9" rx="0.8"/>
<rect x="5.84" y="25.42" width="7.9" height="7.9" rx="0.8"/>
</g>
<circle cx="22.1" cy="22.1" r="6" fill="none" stroke="rgba(225,20,30,0.066)" stroke-width="2.2"/>
<path d="M30 29.2 L32.6 32.3" stroke="rgba(225,20,30,0.066)" stroke-width="3" stroke-linecap="round" fill="none"/>
<text x="38.8" y="16" font-size="20.4" letter-spacing="0.3" fill="rgba(0,0,0,0.06)" font-weight="700">与非研究院</text>
<text x="41" y="29.6" font-size="10.2" fill="rgba(0,0,0,0.06)" font-family="Liberation Sans, sans-serif" font-weight="700">eefocus research lab</text>
</g>
<g transform="matrix(0.9357,-0.3534,0.5403,0.621,448.0,413.8)">
<g fill="rgba(225,20,30,0.066)">
<rect x="-3.95" y="-3.95" width="7.9" height="7.9" rx="0.8"/>
<rect x="5.84" y="-3.95" width="7.9" height="7.9" rx="0.8"/>
<rect x="15.63" y="-3.95" width="7.9" height="7.9" rx="0.8"/>
<rect x="25.42" y="-3.95" width="7.9" height="7.9" rx="0.8"/>
<rect x="25.42" y="5.84" width="7.9" height="7.9" rx="0.8"/>
<rect x="-3.95" y="5.84" width="7.9" height="7.9" rx="0.8"/>
<rect x="-3.95" y="15.63" width="7.9" height="7.9" rx="0.8"/>
<rect x="-3.95" y="25.42" width="7.9" height="7.9" rx="0.8"/>
<rect x="5.84" y="25.42" width="7.9" height="7.9" rx="0.8"/>
</g>
<circle cx="22.1" cy="22.1" r="6" fill="none" stroke="rgba(225,20,30,0.066)" stroke-width="2.2"/>
<path d="M30 29.2 L32.6 32.3" stroke="rgba(225,20,30,0.066)" stroke-width="3" stroke-linecap="round" fill="none"/>
<text x="38.8" y="16" font-size="20.4" letter-spacing="0.3" fill="rgba(0,0,0,0.06)" font-weight="700">与非研究院</text>
<text x="41" y="29.6" font-size="10.2" fill="rgba(0,0,0,0.06)" font-family="Liberation Sans, sans-serif" font-weight="700">eefocus research lab</text>
</g>
<g transform="matrix(0.9357,-0.3534,0.5403,0.621,746.5,410.9)">
<g fill="rgba(225,20,30,0.066)">
<rect x="-3.95" y="-3.95" width="7.9" height="7.9" rx="0.8"/>
<rect x="5.84" y="-3.95" width="7.9" height="7.9" rx="0.8"/>
<rect x="15.63" y="-3.95" width="7.9" height="7.9" rx="0.8"/>
<rect x="25.42" y="-3.95" width="7.9" height="7.9" rx="0.8"/>
<rect x="25.42" y="5.84" width="7.9" height="7.9" rx="0.8"/>
<rect x="-3.95" y="5.84" width="7.9" height="7.9" rx="0.8"/>
<rect x="-3.95" y="15.63" width="7.9" height="7.9" rx="0.8"/>
<rect x="-3.95" y="25.42" width="7.9" height="7.9" rx="0.8"/>
<rect x="5.84" y="25.42" width="7.9" height="7.9" rx="0.8"/>
</g>
<circle cx="22.1" cy="22.1" r="6" fill="none" stroke="rgba(225,20,30,0.066)" stroke-width="2.2"/>
<path d="M30 29.2 L32.6 32.3" stroke="rgba(225,20,30,0.066)" stroke-width="3" stroke-linecap="round" fill="none"/>
<text x="38.8" y="16" font-size="20.4" letter-spacing="0.3" fill="rgba(0,0,0,0.06)" font-weight="700">与非研究院</text>
<text x="41" y="29.6" font-size="10.2" fill="rgba(0,0,0,0.06)" font-family="Liberation Sans, sans-serif" font-weight="700">eefocus research lab</text>
</g>
<g transform="matrix(0.9357,-0.3534,0.5403,0.621,1045.0,408.0)">
<g fill="rgba(225,20,30,0.066)">
<rect x="-3.95" y="-3.95" width="7.9" height="7.9" rx="0.8"/>
<rect x="5.84" y="-3.95" width="7.9" height="7.9" rx="0.8"/>
<rect x="15.63" y="-3.95" width="7.9" height="7.9" rx="0.8"/>
<rect x="25.42" y="-3.95" width="7.9" height="7.9" rx="0.8"/>
<rect x="25.42" y="5.84" width="7.9" height="7.9" rx="0.8"/>
<rect x="-3.95" y="5.84" width="7.9" height="7.9" rx="0.8"/>
<rect x="-3.95" y="15.63" width="7.9" height="7.9" rx="0.8"/>
<rect x="-3.95" y="25.42" width="7.9" height="7.9" rx="0.8"/>
<rect x="5.84" y="25.42" width="7.9" height="7.9" rx="0.8"/>
</g>
<circle cx="22.1" cy="22.1" r="6" fill="none" stroke="rgba(225,20,30,0.066)" stroke-width="2.2"/>
<path d="M30 29.2 L32.6 32.3" stroke="rgba(225,20,30,0.066)" stroke-width="3" stroke-linecap="round" fill="none"/>
<text x="38.8" y="16" font-size="20.4" letter-spacing="0.3" fill="rgba(0,0,0,0.06)" font-weight="700">与非研究院</text>
<text x="41" y="29.6" font-size="10.2" fill="rgba(0,0,0,0.06)" font-family="Liberation Sans, sans-serif" font-weight="700">eefocus research lab</text>
</g>
<g transform="matrix(0.9357,-0.3534,0.5403,0.621,-76.4,503.9)">
<g fill="rgba(225,20,30,0.066)">
<rect x="-3.95" y="-3.95" width="7.9" height="7.9" rx="0.8"/>
<rect x="5.84" y="-3.95" width="7.9" height="7.9" rx="0.8"/>
<rect x="15.63" y="-3.95" width="7.9" height="7.9" rx="0.8"/>
<rect x="25.42" y="-3.95" width="7.9" height="7.9" rx="0.8"/>
<rect x="25.42" y="5.84" width="7.9" height="7.9" rx="0.8"/>
<rect x="-3.95" y="5.84" width="7.9" height="7.9" rx="0.8"/>
<rect x="-3.95" y="15.63" width="7.9" height="7.9" rx="0.8"/>
<rect x="-3.95" y="25.42" width="7.9" height="7.9" rx="0.8"/>
<rect x="5.84" y="25.42" width="7.9" height="7.9" rx="0.8"/>
</g>
<circle cx="22.1" cy="22.1" r="6" fill="none" stroke="rgba(225,20,30,0.066)" stroke-width="2.2"/>
<path d="M30 29.2 L32.6 32.3" stroke="rgba(225,20,30,0.066)" stroke-width="3" stroke-linecap="round" fill="none"/>
<text x="38.8" y="16" font-size="20.4" letter-spacing="0.3" fill="rgba(0,0,0,0.06)" font-weight="700">与非研究院</text>
<text x="41" y="29.6" font-size="10.2" fill="rgba(0,0,0,0.06)" font-family="Liberation Sans, sans-serif" font-weight="700">eefocus research lab</text>
</g>
<g transform="matrix(0.9357,-0.3534,0.5403,0.621,222.1,501.0)">
<g fill="rgba(225,20,30,0.066)">
<rect x="-3.95" y="-3.95" width="7.9" height="7.9" rx="0.8"/>
<rect x="5.84" y="-3.95" width="7.9" height="7.9" rx="0.8"/>
<rect x="15.63" y="-3.95" width="7.9" height="7.9" rx="0.8"/>
<rect x="25.42" y="-3.95" width="7.9" height="7.9" rx="0.8"/>
<rect x="25.42" y="5.84" width="7.9" height="7.9" rx="0.8"/>
<rect x="-3.95" y="5.84" width="7.9" height="7.9" rx="0.8"/>
<rect x="-3.95" y="15.63" width="7.9" height="7.9" rx="0.8"/>
<rect x="-3.95" y="25.42" width="7.9" height="7.9" rx="0.8"/>
<rect x="5.84" y="25.42" width="7.9" height="7.9" rx="0.8"/>
</g>
<circle cx="22.1" cy="22.1" r="6" fill="none" stroke="rgba(225,20,30,0.066)" stroke-width="2.2"/>
<path d="M30 29.2 L32.6 32.3" stroke="rgba(225,20,30,0.066)" stroke-width="3" stroke-linecap="round" fill="none"/>
<text x="38.8" y="16" font-size="20.4" letter-spacing="0.3" fill="rgba(0,0,0,0.06)" font-weight="700">与非研究院</text>
<text x="41" y="29.6" font-size="10.2" fill="rgba(0,0,0,0.06)" font-family="Liberation Sans, sans-serif" font-weight="700">eefocus research lab</text>
</g>
<g transform="matrix(0.9357,-0.3534,0.5403,0.621,520.6,498.1)">
<g fill="rgba(225,20,30,0.066)">
<rect x="-3.95" y="-3.95" width="7.9" height="7.9" rx="0.8"/>
<rect x="5.84" y="-3.95" width="7.9" height="7.9" rx="0.8"/>
<rect x="15.63" y="-3.95" width="7.9" height="7.9" rx="0.8"/>
<rect x="25.42" y="-3.95" width="7.9" height="7.9" rx="0.8"/>
<rect x="25.42" y="5.84" width="7.9" height="7.9" rx="0.8"/>
<rect x="-3.95" y="5.84" width="7.9" height="7.9" rx="0.8"/>
<rect x="-3.95" y="15.63" width="7.9" height="7.9" rx="0.8"/>
<rect x="-3.95" y="25.42" width="7.9" height="7.9" rx="0.8"/>
<rect x="5.84" y="25.42" width="7.9" height="7.9" rx="0.8"/>
</g>
<circle cx="22.1" cy="22.1" r="6" fill="none" stroke="rgba(225,20,30,0.066)" stroke-width="2.2"/>
<path d="M30 29.2 L32.6 32.3" stroke="rgba(225,20,30,0.066)" stroke-width="3" stroke-linecap="round" fill="none"/>
<text x="38.8" y="16" font-size="20.4" letter-spacing="0.3" fill="rgba(0,0,0,0.06)" font-weight="700">与非研究院</text>
<text x="41" y="29.6" font-size="10.2" fill="rgba(0,0,0,0.06)" font-family="Liberation Sans, sans-serif" font-weight="700">eefocus research lab</text>
</g>
<g transform="matrix(0.9357,-0.3534,0.5403,0.621,819.1,495.2)">
<g fill="rgba(225,20,30,0.066)">
<rect x="-3.95" y="-3.95" width="7.9" height="7.9" rx="0.8"/>
<rect x="5.84" y="-3.95" width="7.9" height="7.9" rx="0.8"/>
<rect x="15.63" y="-3.95" width="7.9" height="7.9" rx="0.8"/>
<rect x="25.42" y="-3.95" width="7.9" height="7.9" rx="0.8"/>
<rect x="25.42" y="5.84" width="7.9" height="7.9" rx="0.8"/>
<rect x="-3.95" y="5.84" width="7.9" height="7.9" rx="0.8"/>
<rect x="-3.95" y="15.63" width="7.9" height="7.9" rx="0.8"/>
<rect x="-3.95" y="25.42" width="7.9" height="7.9" rx="0.8"/>
<rect x="5.84" y="25.42" width="7.9" height="7.9" rx="0.8"/>
</g>
<circle cx="22.1" cy="22.1" r="6" fill="none" stroke="rgba(225,20,30,0.066)" stroke-width="2.2"/>
<path d="M30 29.2 L32.6 32.3" stroke="rgba(225,20,30,0.066)" stroke-width="3" stroke-linecap="round" fill="none"/>
<text x="38.8" y="16" font-size="20.4" letter-spacing="0.3" fill="rgba(0,0,0,0.06)" font-weight="700">与非研究院</text>
<text x="41" y="29.6" font-size="10.2" fill="rgba(0,0,0,0.06)" font-family="Liberation Sans, sans-serif" font-weight="700">eefocus research lab</text>
</g>
<g transform="matrix(0.9357,-0.3534,0.5403,0.621,1117.6,492.3)">
<g fill="rgba(225,20,30,0.066)">
<rect x="-3.95" y="-3.95" width="7.9" height="7.9" rx="0.8"/>
<rect x="5.84" y="-3.95" width="7.9" height="7.9" rx="0.8"/>
<rect x="15.63" y="-3.95" width="7.9" height="7.9" rx="0.8"/>
<rect x="25.42" y="-3.95" width="7.9" height="7.9" rx="0.8"/>
<rect x="25.42" y="5.84" width="7.9" height="7.9" rx="0.8"/>
<rect x="-3.95" y="5.84" width="7.9" height="7.9" rx="0.8"/>
<rect x="-3.95" y="15.63" width="7.9" height="7.9" rx="0.8"/>
<rect x="-3.95" y="25.42" width="7.9" height="7.9" rx="0.8"/>
<rect x="5.84" y="25.42" width="7.9" height="7.9" rx="0.8"/>
</g>
<circle cx="22.1" cy="22.1" r="6" fill="none" stroke="rgba(225,20,30,0.066)" stroke-width="2.2"/>
<path d="M30 29.2 L32.6 32.3" stroke="rgba(225,20,30,0.066)" stroke-width="3" stroke-linecap="round" fill="none"/>
<text x="38.8" y="16" font-size="20.4" letter-spacing="0.3" fill="rgba(0,0,0,0.06)" font-weight="700">与非研究院</text>
<text x="41" y="29.6" font-size="10.2" fill="rgba(0,0,0,0.06)" font-family="Liberation Sans, sans-serif" font-weight="700">eefocus research lab</text>
</g>
<g transform="matrix(0.9357,-0.3534,0.5403,0.621,-3.8,588.2)">
<g fill="rgba(225,20,30,0.066)">
<rect x="-3.95" y="-3.95" width="7.9" height="7.9" rx="0.8"/>
<rect x="5.84" y="-3.95" width="7.9" height="7.9" rx="0.8"/>
<rect x="15.63" y="-3.95" width="7.9" height="7.9" rx="0.8"/>
<rect x="25.42" y="-3.95" width="7.9" height="7.9" rx="0.8"/>
<rect x="25.42" y="5.84" width="7.9" height="7.9" rx="0.8"/>
<rect x="-3.95" y="5.84" width="7.9" height="7.9" rx="0.8"/>
<rect x="-3.95" y="15.63" width="7.9" height="7.9" rx="0.8"/>
<rect x="-3.95" y="25.42" width="7.9" height="7.9" rx="0.8"/>
<rect x="5.84" y="25.42" width="7.9" height="7.9" rx="0.8"/>
</g>
<circle cx="22.1" cy="22.1" r="6" fill="none" stroke="rgba(225,20,30,0.066)" stroke-width="2.2"/>
<path d="M30 29.2 L32.6 32.3" stroke="rgba(225,20,30,0.066)" stroke-width="3" stroke-linecap="round" fill="none"/>
<text x="38.8" y="16" font-size="20.4" letter-spacing="0.3" fill="rgba(0,0,0,0.06)" font-weight="700">与非研究院</text>
<text x="41" y="29.6" font-size="10.2" fill="rgba(0,0,0,0.06)" font-family="Liberation Sans, sans-serif" font-weight="700">eefocus research lab</text>
</g>
<g transform="matrix(0.9357,-0.3534,0.5403,0.621,294.7,585.3)">
<g fill="rgba(225,20,30,0.066)">
<rect x="-3.95" y="-3.95" width="7.9" height="7.9" rx="0.8"/>
<rect x="5.84" y="-3.95" width="7.9" height="7.9" rx="0.8"/>
<rect x="15.63" y="-3.95" width="7.9" height="7.9" rx="0.8"/>
<rect x="25.42" y="-3.95" width="7.9" height="7.9" rx="0.8"/>
<rect x="25.42" y="5.84" width="7.9" height="7.9" rx="0.8"/>
<rect x="-3.95" y="5.84" width="7.9" height="7.9" rx="0.8"/>
<rect x="-3.95" y="15.63" width="7.9" height="7.9" rx="0.8"/>
<rect x="-3.95" y="25.42" width="7.9" height="7.9" rx="0.8"/>
<rect x="5.84" y="25.42" width="7.9" height="7.9" rx="0.8"/>
</g>
<circle cx="22.1" cy="22.1" r="6" fill="none" stroke="rgba(225,20,30,0.066)" stroke-width="2.2"/>
<path d="M30 29.2 L32.6 32.3" stroke="rgba(225,20,30,0.066)" stroke-width="3" stroke-linecap="round" fill="none"/>
<text x="38.8" y="16" font-size="20.4" letter-spacing="0.3" fill="rgba(0,0,0,0.06)" font-weight="700">与非研究院</text>
<text x="41" y="29.6" font-size="10.2" fill="rgba(0,0,0,0.06)" font-family="Liberation Sans, sans-serif" font-weight="700">eefocus research lab</text>
</g>
<g transform="matrix(0.9357,-0.3534,0.5403,0.621,593.2,582.4)">
<g fill="rgba(225,20,30,0.066)">
<rect x="-3.95" y="-3.95" width="7.9" height="7.9" rx="0.8"/>
<rect x="5.84" y="-3.95" width="7.9" height="7.9" rx="0.8"/>
<rect x="15.63" y="-3.95" width="7.9" height="7.9" rx="0.8"/>
<rect x="25.42" y="-3.95" width="7.9" height="7.9" rx="0.8"/>
<rect x="25.42" y="5.84" width="7.9" height="7.9" rx="0.8"/>
<rect x="-3.95" y="5.84" width="7.9" height="7.9" rx="0.8"/>
<rect x="-3.95" y="15.63" width="7.9" height="7.9" rx="0.8"/>
<rect x="-3.95" y="25.42" width="7.9" height="7.9" rx="0.8"/>
<rect x="5.84" y="25.42" width="7.9" height="7.9" rx="0.8"/>
</g>
<circle cx="22.1" cy="22.1" r="6" fill="none" stroke="rgba(225,20,30,0.066)" stroke-width="2.2"/>
<path d="M30 29.2 L32.6 32.3" stroke="rgba(225,20,30,0.066)" stroke-width="3" stroke-linecap="round" fill="none"/>
<text x="38.8" y="16" font-size="20.4" letter-spacing="0.3" fill="rgba(0,0,0,0.06)" font-weight="700">与非研究院</text>
<text x="41" y="29.6" font-size="10.2" fill="rgba(0,0,0,0.06)" font-family="Liberation Sans, sans-serif" font-weight="700">eefocus research lab</text>
</g>
<g transform="matrix(0.9357,-0.3534,0.5403,0.621,891.7,579.5)">
<g fill="rgba(225,20,30,0.066)">
<rect x="-3.95" y="-3.95" width="7.9" height="7.9" rx="0.8"/>
<rect x="5.84" y="-3.95" width="7.9" height="7.9" rx="0.8"/>
<rect x="15.63" y="-3.95" width="7.9" height="7.9" rx="0.8"/>
<rect x="25.42" y="-3.95" width="7.9" height="7.9" rx="0.8"/>
<rect x="25.42" y="5.84" width="7.9" height="7.9" rx="0.8"/>
<rect x="-3.95" y="5.84" width="7.9" height="7.9" rx="0.8"/>
<rect x="-3.95" y="15.63" width="7.9" height="7.9" rx="0.8"/>
<rect x="-3.95" y="25.42" width="7.9" height="7.9" rx="0.8"/>
<rect x="5.84" y="25.42" width="7.9" height="7.9" rx="0.8"/>
</g>
<circle cx="22.1" cy="22.1" r="6" fill="none" stroke="rgba(225,20,30,0.066)" stroke-width="2.2"/>
<path d="M30 29.2 L32.6 32.3" stroke="rgba(225,20,30,0.066)" stroke-width="3" stroke-linecap="round" fill="none"/>
<text x="38.8" y="16" font-size="20.4" letter-spacing="0.3" fill="rgba(0,0,0,0.06)" font-weight="700">与非研究院</text>
<text x="41" y="29.6" font-size="10.2" fill="rgba(0,0,0,0.06)" font-family="Liberation Sans, sans-serif" font-weight="700">eefocus research lab</text>
</g>
<g transform="matrix(0.9357,-0.3534,0.5403,0.621,1190.2,576.6)">
<g fill="rgba(225,20,30,0.066)">
<rect x="-3.95" y="-3.95" width="7.9" height="7.9" rx="0.8"/>
<rect x="5.84" y="-3.95" width="7.9" height="7.9" rx="0.8"/>
<rect x="15.63" y="-3.95" width="7.9" height="7.9" rx="0.8"/>
<rect x="25.42" y="-3.95" width="7.9" height="7.9" rx="0.8"/>
<rect x="25.42" y="5.84" width="7.9" height="7.9" rx="0.8"/>
<rect x="-3.95" y="5.84" width="7.9" height="7.9" rx="0.8"/>
<rect x="-3.95" y="15.63" width="7.9" height="7.9" rx="0.8"/>
<rect x="-3.95" y="25.42" width="7.9" height="7.9" rx="0.8"/>
<rect x="5.84" y="25.42" width="7.9" height="7.9" rx="0.8"/>
</g>
<circle cx="22.1" cy="22.1" r="6" fill="none" stroke="rgba(225,20,30,0.066)" stroke-width="2.2"/>
<path d="M30 29.2 L32.6 32.3" stroke="rgba(225,20,30,0.066)" stroke-width="3" stroke-linecap="round" fill="none"/>
<text x="38.8" y="16" font-size="20.4" letter-spacing="0.3" fill="rgba(0,0,0,0.06)" font-weight="700">与非研究院</text>
<text x="41" y="29.6" font-size="10.2" fill="rgba(0,0,0,0.06)" font-family="Liberation Sans, sans-serif" font-weight="700">eefocus research lab</text>
</g>
<g transform="matrix(0.9357,-0.3534,0.5403,0.621,68.8,672.5)">
<g fill="rgba(225,20,30,0.066)">
<rect x="-3.95" y="-3.95" width="7.9" height="7.9" rx="0.8"/>
<rect x="5.84" y="-3.95" width="7.9" height="7.9" rx="0.8"/>
<rect x="15.63" y="-3.95" width="7.9" height="7.9" rx="0.8"/>
<rect x="25.42" y="-3.95" width="7.9" height="7.9" rx="0.8"/>
<rect x="25.42" y="5.84" width="7.9" height="7.9" rx="0.8"/>
<rect x="-3.95" y="5.84" width="7.9" height="7.9" rx="0.8"/>
<rect x="-3.95" y="15.63" width="7.9" height="7.9" rx="0.8"/>
<rect x="-3.95" y="25.42" width="7.9" height="7.9" rx="0.8"/>
<rect x="5.84" y="25.42" width="7.9" height="7.9" rx="0.8"/>
</g>
<circle cx="22.1" cy="22.1" r="6" fill="none" stroke="rgba(225,20,30,0.066)" stroke-width="2.2"/>
<path d="M30 29.2 L32.6 32.3" stroke="rgba(225,20,30,0.066)" stroke-width="3" stroke-linecap="round" fill="none"/>
<text x="38.8" y="16" font-size="20.4" letter-spacing="0.3" fill="rgba(0,0,0,0.06)" font-weight="700">与非研究院</text>
<text x="41" y="29.6" font-size="10.2" fill="rgba(0,0,0,0.06)" font-family="Liberation Sans, sans-serif" font-weight="700">eefocus research lab</text>
</g>
<g transform="matrix(0.9357,-0.3534,0.5403,0.621,367.3,669.6)">
<g fill="rgba(225,20,30,0.066)">
<rect x="-3.95" y="-3.95" width="7.9" height="7.9" rx="0.8"/>
<rect x="5.84" y="-3.95" width="7.9" height="7.9" rx="0.8"/>
<rect x="15.63" y="-3.95" width="7.9" height="7.9" rx="0.8"/>
<rect x="25.42" y="-3.95" width="7.9" height="7.9" rx="0.8"/>
<rect x="25.42" y="5.84" width="7.9" height="7.9" rx="0.8"/>
<rect x="-3.95" y="5.84" width="7.9" height="7.9" rx="0.8"/>
<rect x="-3.95" y="15.63" width="7.9" height="7.9" rx="0.8"/>
<rect x="-3.95" y="25.42" width="7.9" height="7.9" rx="0.8"/>
<rect x="5.84" y="25.42" width="7.9" height="7.9" rx="0.8"/>
</g>
<circle cx="22.1" cy="22.1" r="6" fill="none" stroke="rgba(225,20,30,0.066)" stroke-width="2.2"/>
<path d="M30 29.2 L32.6 32.3" stroke="rgba(225,20,30,0.066)" stroke-width="3" stroke-linecap="round" fill="none"/>
<text x="38.8" y="16" font-size="20.4" letter-spacing="0.3" fill="rgba(0,0,0,0.06)" font-weight="700">与非研究院</text>
<text x="41" y="29.6" font-size="10.2" fill="rgba(0,0,0,0.06)" font-family="Liberation Sans, sans-serif" font-weight="700">eefocus research lab</text>
</g>
<g transform="matrix(0.9357,-0.3534,0.5403,0.621,665.8,666.7)">
<g fill="rgba(225,20,30,0.066)">
<rect x="-3.95" y="-3.95" width="7.9" height="7.9" rx="0.8"/>
<rect x="5.84" y="-3.95" width="7.9" height="7.9" rx="0.8"/>
<rect x="15.63" y="-3.95" width="7.9" height="7.9" rx="0.8"/>
<rect x="25.42" y="-3.95" width="7.9" height="7.9" rx="0.8"/>
<rect x="25.42" y="5.84" width="7.9" height="7.9" rx="0.8"/>
<rect x="-3.95" y="5.84" width="7.9" height="7.9" rx="0.8"/>
<rect x="-3.95" y="15.63" width="7.9" height="7.9" rx="0.8"/>
<rect x="-3.95" y="25.42" width="7.9" height="7.9" rx="0.8"/>
<rect x="5.84" y="25.42" width="7.9" height="7.9" rx="0.8"/>
</g>
<circle cx="22.1" cy="22.1" r="6" fill="none" stroke="rgba(225,20,30,0.066)" stroke-width="2.2"/>
<path d="M30 29.2 L32.6 32.3" stroke="rgba(225,20,30,0.066)" stroke-width="3" stroke-linecap="round" fill="none"/>
<text x="38.8" y="16" font-size="20.4" letter-spacing="0.3" fill="rgba(0,0,0,0.06)" font-weight="700">与非研究院</text>
<text x="41" y="29.6" font-size="10.2" fill="rgba(0,0,0,0.06)" font-family="Liberation Sans, sans-serif" font-weight="700">eefocus research lab</text>
</g>
<g transform="matrix(0.9357,-0.3534,0.5403,0.621,964.3,663.8)">
<g fill="rgba(225,20,30,0.066)">
<rect x="-3.95" y="-3.95" width="7.9" height="7.9" rx="0.8"/>
<rect x="5.84" y="-3.95" width="7.9" height="7.9" rx="0.8"/>
<rect x="15.63" y="-3.95" width="7.9" height="7.9" rx="0.8"/>
<rect x="25.42" y="-3.95" width="7.9" height="7.9" rx="0.8"/>
<rect x="25.42" y="5.84" width="7.9" height="7.9" rx="0.8"/>
<rect x="-3.95" y="5.84" width="7.9" height="7.9" rx="0.8"/>
<rect x="-3.95" y="15.63" width="7.9" height="7.9" rx="0.8"/>
<rect x="-3.95" y="25.42" width="7.9" height="7.9" rx="0.8"/>
<rect x="5.84" y="25.42" width="7.9" height="7.9" rx="0.8"/>
</g>
<circle cx="22.1" cy="22.1" r="6" fill="none" stroke="rgba(225,20,30,0.066)" stroke-width="2.2"/>
<path d="M30 29.2 L32.6 32.3" stroke="rgba(225,20,30,0.066)" stroke-width="3" stroke-linecap="round" fill="none"/>
<text x="38.8" y="16" font-size="20.4" letter-spacing="0.3" fill="rgba(0,0,0,0.06)" font-weight="700">与非研究院</text>
<text x="41" y="29.6" font-size="10.2" fill="rgba(0,0,0,0.06)" font-family="Liberation Sans, sans-serif" font-weight="700">eefocus research lab</text>
</g>
</g>
</svg>
</div>
</body>
</html>
